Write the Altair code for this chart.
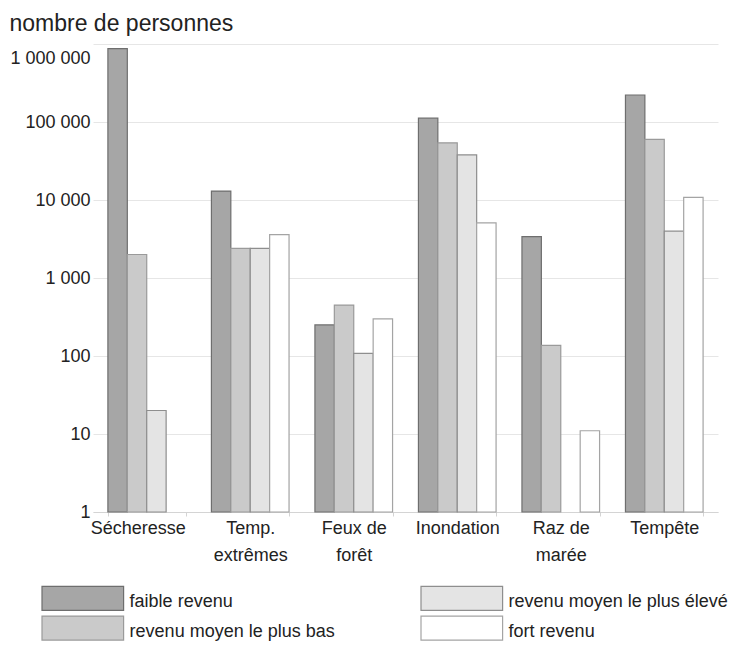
import altair as alt
import pandas as pd

categories = ["Sécheresse", "Temp. extrêmes", "Feux de forêt", "Inondation", "Raz de marée", "Tempête"]
series = ["faible revenu", "revenu moyen le plus bas", "revenu moyen le plus élevé", "fort revenu"]

faible_revenu = [870000, 13000, 250, 112000, 3400, 222000]
moyen_bas = [2000, 2400, 450, 54000, 137, 60000]
moyen_eleve = [20, 2400, 108, 38000, None, 4000]
fort_revenu = [None, 3600, 300, 5100, 11, 10800]

fills = ["#a6a6a6", "#cacaca", "#e4e4e4", "#ffffff"]
strokes = ["#6e6e6e", "#9a9a9a", "#8e8e8e", "#a4a4a4"]
y_ticks = [1, 10, 100, 1000, 10000, 100000, 1000000]

values = [faible_revenu, moyen_bas, moyen_eleve, fort_revenu]
rows = []
for s, vals in zip(series, values):
    for c, v in zip(categories, vals):
        if v is not None:
            rows.append({"categorie": c, "serie": s, "valeur": v})
df = pd.DataFrame(rows)

font = "Liberation Sans"
txt = "#222222"

label_expr = (
    "datum.label == 'Temp. extrêmes' ? ['Temp.', 'extrêmes'] : "
    "datum.label == 'Feux de forêt' ? ['Feux de', 'forêt'] : "
    "datum.label == 'Raz de marée' ? ['Raz de', 'marée'] : datum.label"
)

chart = alt.Chart(df).mark_bar(strokeWidth=1.2).encode(
    x=alt.X(
        "categorie:N",
        sort=categories,
        scale=alt.Scale(domain=categories, paddingInner=0.25, paddingOuter=0.144),
        axis=alt.Axis(
            title=None, labelAngle=0, labelFontSize=18, labelColor=txt, labelFont=font,
            labelExpr=label_expr, labelLineHeight=27, labelPadding=3,
            labelOffset={"condition": {"test": "datum.value == 'Sécheresse'", "value": -9},
                         "value": 0},
            tickBand="extent", tickSize=4, tickColor="#d4d4d4",
            domainColor="#d4d4d4", grid=False,
        ),
    ),
    xOffset=alt.XOffset("serie:N", sort=series,
                        scale=alt.Scale(domain=series, paddingInner=0, paddingOuter=0)),
    y=alt.Y(
        "valeur:Q",
        stack=None,
        scale=alt.Scale(type="log", domain=[1, 1000000]),
        axis=alt.Axis(
            values=y_ticks,
            labelExpr="replace(replace(format(datum.value, ',d'), ',', ' '), ',', ' ')",
            labelFontSize=18, labelColor=txt, labelFont=font, labelPadding=3,
            labelOffset={"condition": {"test": "datum.value == 1000000", "value": 14},
                         "value": 0},
            ticks=False, domain=False, grid=True, gridColor="#e6e6e6",
            title="nombre de personnes", titleAngle=0, titleAlign="left",
            titleBaseline="alphabetic", titleX=-84, titleY=-14, titleFontSize=23,
            titleFontWeight="normal", titleColor=txt, titleFont=font,
        ),
    ),
    y2=alt.datum(1),
    fill=alt.Fill(
        "serie:N",
        scale=alt.Scale(domain=series, range=fills),
        legend=alt.Legend(
            title=None, orient="none", legendX=-52, legendY=545, columns=2,
            columnPadding=83, rowPadding=0,
            symbolType="M-1,-1.33H5.8V0.67H-1Z", symbolSize=576,
            symbolStrokeColor="#9a9a9a", symbolStrokeWidth=1.2,
            labelOffset=62.6, labelFontSize=18, labelColor=txt, labelFont=font,
            labelLimit=400, padding=0,
        ),
    ),
    stroke=alt.Stroke(
        "serie:N",
        scale=alt.Scale(domain=series, range=strokes),
        legend=None,
    ),
).properties(
    width=625,
    height=468,
    autosize=alt.AutoSizeParams(type="none"),
    padding={"left": 85, "top": 36, "right": 13, "bottom": 131},
).configure(font=font, view=alt.ViewConfig(stroke=None))

chart.save("out.html", embed_options={"renderer": "svg", "actions": False})
